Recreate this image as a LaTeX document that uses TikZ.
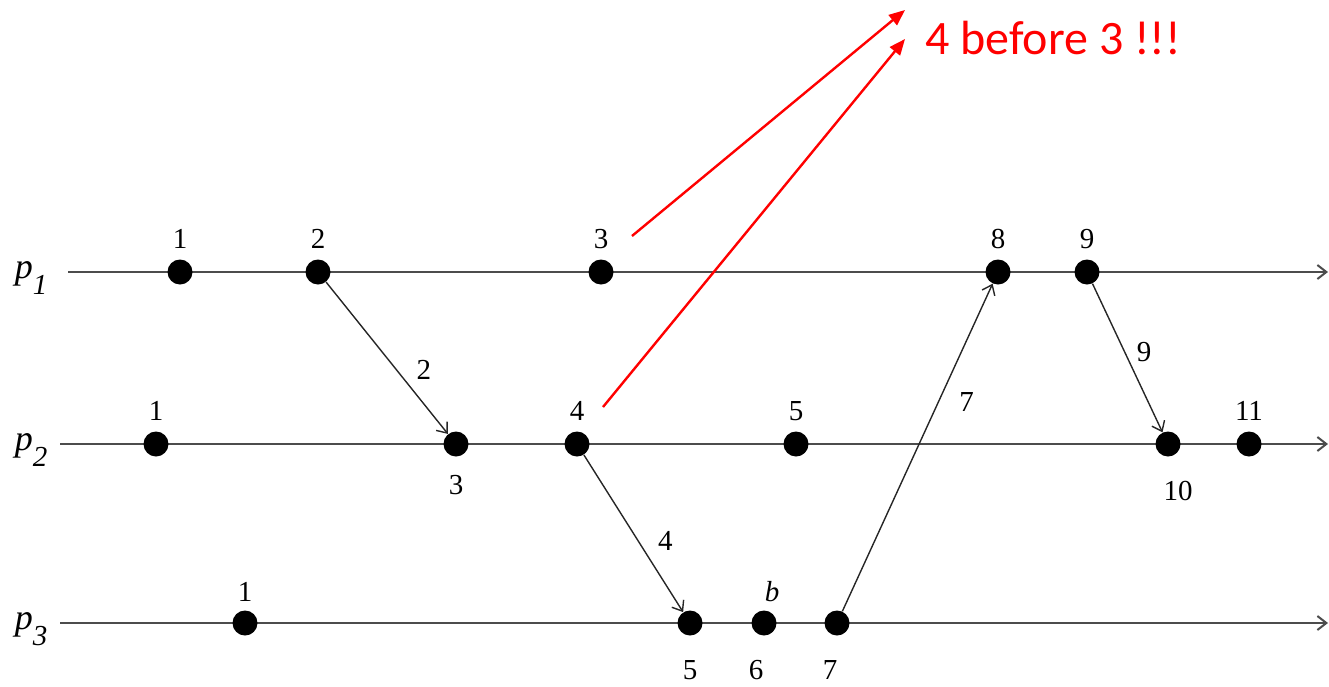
\documentclass[tikz,border=0pt]{standalone}
\usepackage{fontspec}
\setmainfont{Liberation Serif}
\newfontfamily\notefont{Carlito}
\usetikzlibrary{arrows.meta}

\tikzset{
  ev/.style={circle,fill=black,inner sep=0pt,minimum size=12.5pt},
  every label/.style={font=\fontsize{14.5}{16}\selectfont,inner sep=1pt},
  proc/.style={line width=1pt,draw=black!70,->},
  msg/.style={line width=0.7pt,draw=black!85,->},
  num/.style={font=\fontsize{14.5}{16}\selectfont,inner sep=1pt},
  plab/.style={font=\fontsize{18}{20}\selectfont\itshape,inner sep=0pt},
  remark/.style={red,line width=1.2pt,-{Triangle[length=8pt,width=6.5pt]}}
}

\begin{document}
\begin{tikzpicture}[x=0.5pt,y=-0.5pt,>={Straight Barb[length=4.5pt,width=7pt]},label distance=4pt]
\useasboundingbox (0,0) rectangle (1329,686);
% processes
\node[plab] (lp1) at (31,278) {p\raisebox{-0.95ex}{\fontsize{14.5}{16}\selectfont 1}};
\node[plab] (lp2) at (31,450) {p\raisebox{-0.95ex}{\fontsize{14.5}{16}\selectfont 2}};
\node[plab] (lp3) at (31,629) {p\raisebox{-0.95ex}{\fontsize{14.5}{16}\selectfont 3}};
\coordinate (s1) at (68,272);  \coordinate (e1) at (1328,272);
\coordinate (s2) at (60,444);  \coordinate (e2) at (1328,444);
\coordinate (s3) at (60,623);  \coordinate (e3) at (1328,623);
\draw[proc] (s1) -- (e1);
\draw[proc] (s2) -- (e2);
\draw[proc] (s3) -- (e3);
% events of p1
\node[ev,label=above:1] (a1) at (180,272) {};
\node[ev,label=above:2] (a2) at (318,272) {};
\node[ev,label={[name=l3]above:3}] (a3) at (601,272) {};
\node[ev,label=above:8] (a8) at (998,272) {};
\node[ev,label=above:9] (a9) at (1087,272) {};
% events of p2
\node[ev,label=above:1] (b1) at (156,444) {};
\node[ev,label={[label distance=8pt]below:3}] (b3) at (456,444) {};
\node[ev,label={[name=l4]above:4}] (b4) at (577,444) {};
\node[ev,label=above:5] (b5) at (796,444) {};
\node[ev,label={[label distance=11pt,xshift=5pt]below:10}] (b10) at (1168,444) {};
\node[ev,label=above:11] (b11) at (1249,444) {};
% events of p3
\node[ev,label={[label distance=3pt]above:1}] (c1) at (245,623) {};
\node[ev,label={[label distance=11pt]below:5}] (c5) at (690,623) {};
\node[ev,label={[label distance=11pt,xshift=-4pt]below:6},
  label={[label distance=3pt,xshift=4pt]above:\textit{b}}] (c6) at (764,623) {};
\node[ev,label={[label distance=11pt,xshift=-3.5pt]below:7}] (c7) at (837,623) {};
% messages
\draw[msg] (a2) -- (b3) node[num,pos=0.58,xshift=13.5pt] {2};
\draw[msg] (b4) -- (c5) node[num,pos=0.55,xshift=13.4pt] {4};
\draw[msg] (c7) -- (a8) node[num,pos=0.64,xshift=14pt] {7};
\draw[msg] (a9) -- (b10) node[num,pos=0.46,xshift=9.7pt] {9};
% remark
\node[anchor=west,text=red,inner sep=0pt,font=\notefont\fontsize{24}{27}\selectfont] (note) at (925,38) {4 before 3 !!!};
\coordinate (r1s) at (632,236); \coordinate (r1e) at (905,10);
\coordinate (r2s) at (603,407); \coordinate (r2e) at (905,39);
\draw[remark] (r1s) -- (r1e);
\draw[remark] (r2s) -- (r2e);
\end{tikzpicture}
\end{document}
